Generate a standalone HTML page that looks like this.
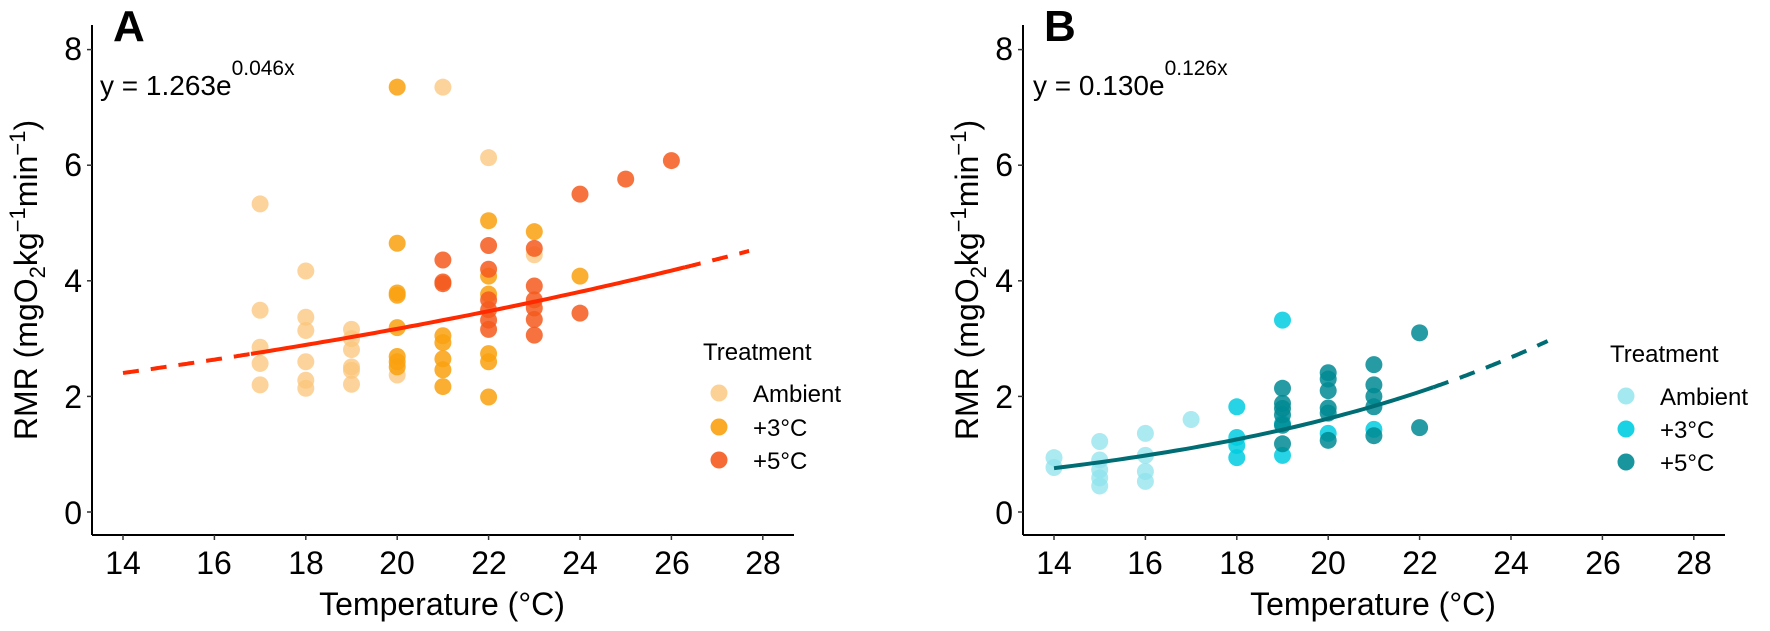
<!DOCTYPE html>
<html><head><meta charset="utf-8">
<style>
html,body{margin:0;padding:0;background:#fff;}
svg{display:block;font-family:"Liberation Sans",Arial,sans-serif;}
</style></head>
<body>
<svg id="s" width="1770" height="631" viewBox="0 0 1770 631" xmlns="http://www.w3.org/2000/svg">
<rect width="1770" height="631" fill="#fff"/>
<g stroke="#000" stroke-width="2" fill="none">
<line x1="92" y1="25" x2="92" y2="535"/>
<line x1="92" y1="535" x2="794" y2="535"/>
<line x1="1023" y1="25" x2="1023" y2="535"/>
<line x1="1023" y1="535" x2="1725" y2="535"/>
</g>
<g id="ticks" stroke="#333" stroke-width="1.5"></g>
<g id="pts"></g>
<g id="lines"></g>
<g font-size="32" fill="#000" text-anchor="end">
<text x="82" y="524">0</text><text x="82" y="408">2</text><text x="82" y="292">4</text><text x="82" y="176">6</text><text x="82" y="60">8</text>
<text x="1013" y="524">0</text><text x="1013" y="408">2</text><text x="1013" y="292">4</text><text x="1013" y="176">6</text><text x="1013" y="60">8</text>
</g>
<g font-size="32" fill="#000" text-anchor="middle">
<text x="123" y="574">14</text><text x="214" y="574">16</text><text x="306" y="574">18</text><text x="397" y="574">20</text><text x="489" y="574">22</text><text x="580" y="574">24</text><text x="672" y="574">26</text><text x="763" y="574">28</text>
<text x="1054" y="574">14</text><text x="1145" y="574">16</text><text x="1237" y="574">18</text><text x="1328" y="574">20</text><text x="1420" y="574">22</text><text x="1511" y="574">24</text><text x="1603" y="574">26</text><text x="1694" y="574">28</text>
</g>
<g font-size="32" fill="#000" text-anchor="middle">
<text x="442" y="615">Temperature (°C)</text>
<text x="1373" y="615">Temperature (°C)</text>
<text transform="translate(37,280) rotate(-90)">RMR  (mgO<tspan font-size="22" dy="8">2</tspan><tspan dy="-8">kg</tspan><tspan font-size="22" dy="-12">−1</tspan><tspan dy="12">min</tspan><tspan font-size="22" dy="-12">−1</tspan><tspan dy="12">)</tspan></text>
<text transform="translate(978,280) rotate(-90)">RMR  (mgO<tspan font-size="22" dy="8">2</tspan><tspan dy="-8">kg</tspan><tspan font-size="22" dy="-12">−1</tspan><tspan dy="12">min</tspan><tspan font-size="22" dy="-12">−1</tspan><tspan dy="12">)</tspan></text>
</g>
<g font-weight="bold" font-size="44" fill="#000">
<text x="113" y="41">A</text>
<text x="1044" y="41">B</text>
</g>
<g font-size="28" fill="#000">
<text x="100" y="95">y = 1.263e<tspan font-size="21" dy="-20">0.046x</tspan></text>
<text x="1033" y="95">y = 0.130e<tspan font-size="21" dy="-20">0.126x</tspan></text>
</g>
<g font-size="24" fill="#000">
<text x="703" y="360">Treatment</text>
<text x="753" y="402">Ambient</text><text x="753" y="436">+3°C</text><text x="753" y="469">+5°C</text>
<text x="1610" y="362">Treatment</text>
<text x="1660" y="405">Ambient</text><text x="1660" y="438">+3°C</text><text x="1660" y="471">+5°C</text>
</g>
<g>
<circle cx="719" cy="393" r="8.5" fill="#fbc57a" opacity="0.8"/>
<circle cx="719" cy="427" r="8.5" fill="#f9a10f" opacity="0.9"/>
<circle cx="719" cy="460" r="8.5" fill="#f55a1f" opacity="0.9"/>
<circle cx="1626" cy="396" r="8.5" fill="#8fe3ec" opacity="0.8"/>
<circle cx="1626" cy="429" r="8.5" fill="#00cde0" opacity="0.9"/>
<circle cx="1626" cy="462" r="8.5" fill="#008a93" opacity="0.9"/>
</g>
</svg>
<script>
(function(){
var NS="http://www.w3.org/2000/svg";
function Y(v){return 512-57.8*v;}
function XA(t){return 123+45.7*(t-14);}
function XB(t){return 1054+45.7*(t-14);}
var tk=document.getElementById("ticks");
function ln(p,a){var e=document.createElementNS(NS,"line");for(var k in a)e.setAttribute(k,a[k]);p.appendChild(e);return e;}
for(var v=0;v<=8;v+=2){ln(tk,{x1:87,x2:92,y1:Y(v),y2:Y(v)});ln(tk,{x1:1018,x2:1023,y1:Y(v),y2:Y(v)});}
for(var t=14;t<=28;t+=2){ln(tk,{x1:XA(t),x2:XA(t),y1:535,y2:540});ln(tk,{x1:XB(t),x2:XB(t),y1:535,y2:540});}
var pts=document.getElementById("pts");
function c(x,y,fill,op){var e=document.createElementNS(NS,"circle");e.setAttribute("cx",x);e.setAttribute("cy",y);e.setAttribute("r",8.5);e.setAttribute("fill",fill);e.setAttribute("opacity",op);pts.appendChild(e);}
var A=[
["#fbc57a",0.75,[[17,5.33],[17,3.49],[17,2.85],[17,2.57],[17,2.2],[18,4.17],[18,3.37],[18,3.14],[18,2.6],[18,2.28],[18,2.14],[19,3.16],[19,3.0],[19,2.81],[19,2.51],[19,2.45],[19,2.21],[20,2.37],[21,7.35],[22,6.13],[23,4.45]]],
["#f9a10f",0.85,[[20,7.35],[20,4.65],[20,3.79],[20,3.75],[20,3.19],[20,2.69],[20,2.6],[20,2.51],[21,3.05],[21,2.93],[21,2.65],[21,2.46],[21,2.17],[22,5.04],[22,4.08],[22,3.77],[22,2.74],[22,2.6],[22,1.99],[23,4.85],[24,4.08]]],
["#f55a1f",0.85,[[21,4.36],[21,3.98],[21,3.95],[22,4.61],[22,4.2],[22,3.67],[22,3.5],[22,3.32],[22,3.16],[23,4.56],[23,3.91],[23,3.67],[23,3.53],[23,3.33],[23,3.06],[24,5.5],[24,3.44],[25,5.76],[26,6.08]]]
];
A.forEach(function(g){g[2].forEach(function(p){c(XA(p[0]),Y(p[1]),g[0],g[1]);});});
var B=[
["#8fe3ec",0.75,[[14,0.94],[14,0.77],[15,1.22],[15,0.9],[15,0.73],[15,0.59],[15,0.45],[16,1.36],[16,0.98],[16,0.7],[16,0.53],[17,1.6]]],
["#00cde0",0.85,[[18,1.82],[18,1.29],[18,1.15],[18,0.94],[19,3.32],[19,0.98],[19,1.53],[20,1.36],[21,1.43]]],
["#008a93",0.85,[[19,2.14],[19,1.88],[19,1.79],[19,1.68],[19,1.5],[19,1.18],[20,2.41],[20,2.3],[20,2.1],[20,1.8],[20,1.71],[20,1.24],[21,2.55],[21,2.2],[21,2.0],[21,1.82],[21,1.32],[22,3.1],[22,1.46]]]
];
B.forEach(function(g){g[2].forEach(function(p){c(XB(p[0]),Y(p[1]),g[0],g[1]);});});
var L=document.getElementById("lines");
function path(f,X,t0,t1,col,dash){var d="";for(var i=0;i<=60;i++){var t=t0+(t1-t0)*i/60;d+=(i?"L":"M")+X(t).toFixed(1)+","+Y(f(t)).toFixed(1);}
var e=document.createElementNS(NS,"path");e.setAttribute("d",d);e.setAttribute("fill","none");e.setAttribute("stroke",col);e.setAttribute("stroke-width","4");if(dash)e.setAttribute("stroke-dasharray","16,12");L.appendChild(e);}
var fa=function(t){return 1.263*Math.exp(0.046*t);};
var fb=function(t){return 0.130*Math.exp(0.126*t);};
path(fa,XA,14,16.8,"#ff2a00",true);
path(fa,XA,16.8,26.3,"#ff2a00",false);
path(fa,XA,26.3,27.7,"#ff2a00",true);
path(fb,XB,14,22.3,"#006d75",false);
path(fb,XB,22.3,24.8,"#006d75",true);
})();
</script>
</body></html>
